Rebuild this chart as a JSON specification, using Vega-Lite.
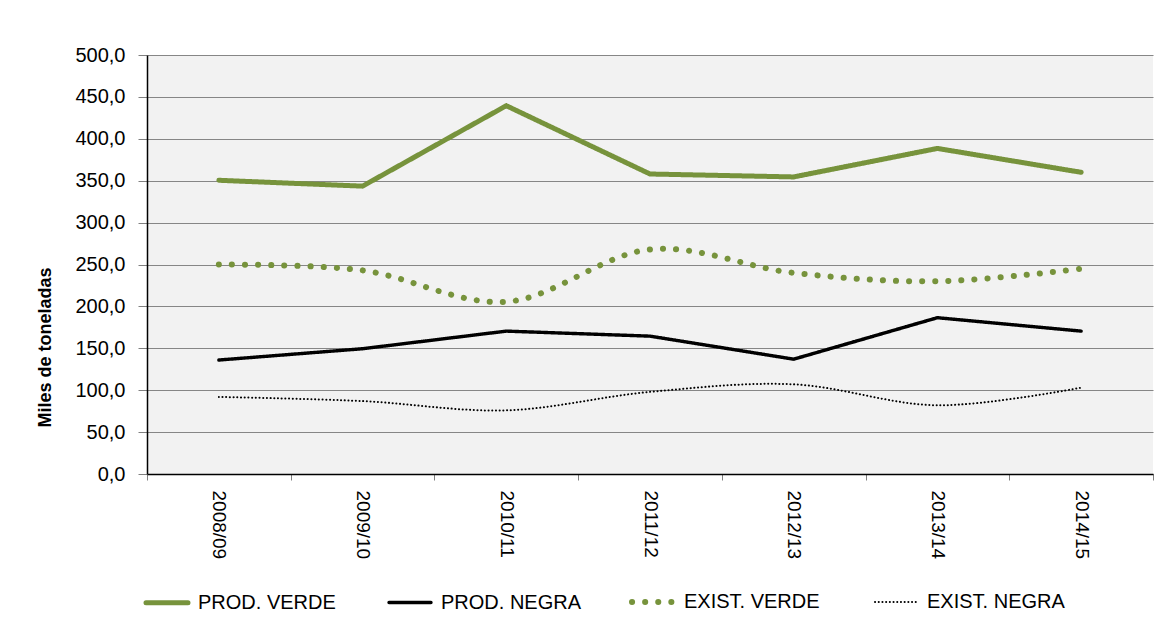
{
  "$schema": "https://vega.github.io/schema/vega-lite/v6.json",
  "autosize": "none",
  "width": 1006,
  "height": 419,
  "padding": {"left": 147, "top": 55, "right": 15, "bottom": 145},
  "background": "white",
  "config": {
    "view": {"fill": "#f2f2f2", "stroke": null},
    "font": "Liberation Sans"
  },
  "data": {
    "values": [
      {"campana": "2008/09", "serie": "PROD. VERDE", "valor": 350.5},
      {"campana": "2009/10", "serie": "PROD. VERDE", "valor": 343.5},
      {"campana": "2010/11", "serie": "PROD. VERDE", "valor": 439.5},
      {"campana": "2011/12", "serie": "PROD. VERDE", "valor": 358.0},
      {"campana": "2012/13", "serie": "PROD. VERDE", "valor": 354.5},
      {"campana": "2013/14", "serie": "PROD. VERDE", "valor": 388.5},
      {"campana": "2014/15", "serie": "PROD. VERDE", "valor": 360.0},
      {"campana": "2008/09", "serie": "PROD. NEGRA", "valor": 136.0},
      {"campana": "2009/10", "serie": "PROD. NEGRA", "valor": 149.5},
      {"campana": "2010/11", "serie": "PROD. NEGRA", "valor": 170.5},
      {"campana": "2011/12", "serie": "PROD. NEGRA", "valor": 164.5},
      {"campana": "2012/13", "serie": "PROD. NEGRA", "valor": 137.0},
      {"campana": "2013/14", "serie": "PROD. NEGRA", "valor": 186.5},
      {"campana": "2014/15", "serie": "PROD. NEGRA", "valor": 170.5},
      {"campana": "2008/09", "serie": "EXIST. VERDE", "valor": 250.0},
      {"campana": "2009/10", "serie": "EXIST. VERDE", "valor": 243.0},
      {"campana": "2010/11", "serie": "EXIST. VERDE", "valor": 205.5},
      {"campana": "2011/12", "serie": "EXIST. VERDE", "valor": 268.0},
      {"campana": "2012/13", "serie": "EXIST. VERDE", "valor": 240.0},
      {"campana": "2013/14", "serie": "EXIST. VERDE", "valor": 230.0},
      {"campana": "2014/15", "serie": "EXIST. VERDE", "valor": 245.0},
      {"campana": "2008/09", "serie": "EXIST. NEGRA", "valor": 92.0},
      {"campana": "2009/10", "serie": "EXIST. NEGRA", "valor": 87.0},
      {"campana": "2010/11", "serie": "EXIST. NEGRA", "valor": 76.0},
      {"campana": "2011/12", "serie": "EXIST. NEGRA", "valor": 98.0},
      {"campana": "2012/13", "serie": "EXIST. NEGRA", "valor": 107.0},
      {"campana": "2013/14", "serie": "EXIST. NEGRA", "valor": 82.0},
      {"campana": "2014/15", "serie": "EXIST. NEGRA", "valor": 103.0}
    ]
  },
  "encoding": {
    "x": {
      "field": "campana",
      "type": "ordinal",
      "scale": {"type": "band", "paddingInner": 0, "paddingOuter": 0},
      "axis": {
        "title": null,
        "labelAngle": 90,
        "labelAlign": "left",
        "labelBaseline": "middle",
        "labelFontSize": 19,
        "labelColor": "#000000",
        "labelPadding": 10,
        "tickBand": "extent",
        "tickSize": 6,
        "tickColor": "#808080",
        "domainColor": "#000000",
        "domainWidth": 1.5
      }
    },
    "y": {
      "field": "valor",
      "type": "quantitative",
      "scale": {"domain": [0, 500], "nice": false},
      "axis": {
        "title": "Miles de toneladas",
        "titleFontSize": 18,
        "titleFontWeight": "bold",
        "titleColor": "#000000",
        "titleX": -102,
        "titleY": 292,
        "titleAlign": "center",
        "titleBaseline": "middle",
        "values": [0, 50, 100, 150, 200, 250, 300, 350, 400, 450, 500],
        "labelExpr": "replace(format(datum.value, '.1f'), '.', ',')",
        "labelFontSize": 20,
        "labelColor": "#000000",
        "labelPadding": 13,
        "tickSize": 9,
        "tickColor": "#808080",
        "domainColor": "#000000",
        "domainWidth": 1.5,
        "grid": true,
        "gridColor": "#868686",
        "gridWidth": 1.2
      }
    },
    "color": {
      "field": "serie",
      "type": "nominal",
      "scale": {
        "domain": ["PROD. VERDE", "PROD. NEGRA", "EXIST. VERDE", "EXIST. NEGRA"],
        "range": ["#77933C", "#000000", "#77933C", "#000000"]
      },
      "legend": {
        "title": null,
        "orient": "none",
        "legendX": -4,
        "legendY": 523,
        "direction": "horizontal",
        "columns": 4,
        "gridAlign": "all",
        "columnPadding": 38,
        "symbolType": "stroke",
        "symbolSize": 1764,
        "labelFontSize": 20,
        "labelColor": "#000000",
        "labelOffset": 7,
        "labelLimit": 300,
        "encode": {"symbols": {"update": {"strokeCap": {"value": "round"}}}}
      }
    },
    "strokeWidth": {
      "field": "serie",
      "type": "nominal",
      "scale": {
        "type": "ordinal",
        "domain": ["PROD. VERDE", "PROD. NEGRA", "EXIST. VERDE", "EXIST. NEGRA"],
        "range": [5, 3.4, 6, 2]
      }
    },
    "strokeDash": {
      "field": "serie",
      "type": "nominal",
      "scale": {
        "domain": ["PROD. VERDE", "PROD. NEGRA", "EXIST. VERDE", "EXIST. NEGRA"],
        "range": [[1, 0], [1, 0], [0.1, 13], [0.1, 3.6]]
      }
    }
  },
  "layer": [
    {
      "transform": [{"filter": "indexof(datum.serie, 'PROD') == 0"}],
      "mark": {"type": "line", "strokeCap": "round", "strokeJoin": "round", "interpolate": "linear"}
    },
    {
      "transform": [{"filter": "indexof(datum.serie, 'EXIST') == 0"}],
      "mark": {"type": "line", "strokeCap": "round", "strokeJoin": "round", "interpolate": "cardinal"}
    }
  ]
}
